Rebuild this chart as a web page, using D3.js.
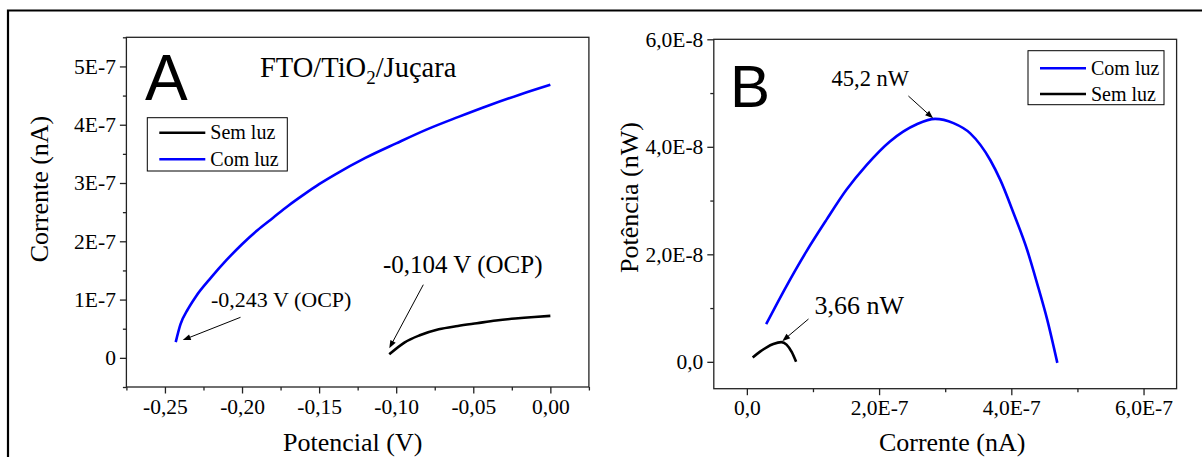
<html>
<head>
<meta charset="utf-8">
<script src="https://d3js.org/d3.v7.min.js"></script>
<style>
  body { margin: 0; background: #fff; }
  text { font-family: "Liberation Serif", "Times New Roman", serif; fill: #000; }
  .tick line { stroke: #222; stroke-width: 1.3; }
</style>
</head>
<body>
<script>

// panel A : corrente x potencial
semLuzA = [[-0.1045,0.06e-7],[-0.0947,0.262e-7],[-0.0847,0.387e-7],[-0.0724,0.49e-7],[-0.0600,0.547e-7],
  [-0.0476,0.594e-7],[-0.0352,0.64e-7],[-0.0228,0.675e-7],[-0.0104,0.702e-7],[0,0.72e-7]]
comLuzA = [[-0.243,0.27e-7],[-0.240,0.57e-7],[-0.235,0.84e-7],[-0.230,1.05e-7],[-0.220,1.38e-7],
  [-0.210,1.68e-7],[-0.200,1.95e-7],[-0.190,2.19e-7],[-0.180,2.40e-7],[-0.170,2.61e-7],
  [-0.160,2.80e-7],[-0.150,2.98e-7],[-0.140,3.14e-7],[-0.120,3.43e-7],[-0.100,3.68e-7],
  [-0.080,3.92e-7],[-0.060,4.13e-7],[-0.040,4.33e-7],[-0.020,4.515e-7],[0,4.685e-7]]

// panel B : potencia x corrente
comLuzB = [[0.292e-7,0.70e-8],[0.595e-7,1.40e-8],[0.899e-7,2.05e-8],[1.203e-7,2.64e-8],[1.506e-7,3.20e-8],
  [1.81e-7,3.66e-8],[2.164e-7,4.10e-8],[2.57e-7,4.42e-8],[2.847e-7,4.52e-8],[3.125e-7,4.44e-8],
  [3.379e-7,4.25e-8],[3.683e-7,3.75e-8],[3.835e-7,3.38e-8],[4.036e-7,2.76e-8],[4.24e-7,2.08e-8],
  [4.39e-7,1.46e-8],[4.544e-7,0.78e-8],[4.696e-7,-0.02e-8]]
semLuzB = [[0.088e-7,0.08e-8],[0.2e-7,0.19e-8],[0.3e-7,0.27e-8],[0.4e-7,0.33e-8],[0.52e-7,0.366e-8],
  [0.6e-7,0.32e-8],[0.68e-7,0.18e-8],[0.745e-7,0.0]]

xTicksA = [-0.25,-0.20,-0.15,-0.10,-0.05,0]
xLabelsA = ["-0,25","-0,20","-0,15","-0,10","-0,05","0,00"]
yTicksA = [0,1e-7,2e-7,3e-7,4e-7,5e-7]
yLabelsA = ["0","1E-7","2E-7","3E-7","4E-7","5E-7"]
xTicksB = [0,2e-7,4e-7,6e-7]
xLabelsB = ["0,0","2,0E-7","4,0E-7","6,0E-7"]
yTicksB = [0,2e-8,4e-8,6e-8]
yLabelsB = ["0,0","2,0E-8","4,0E-8","6,0E-8"]

serif = "'Liberation Serif', 'Times New Roman', serif"

svg = d3.select("body").append("svg").attr("width",1202).attr("height",457)

// outer frame (only top and left visible)
svg.append("path").attr("d","M8,457V10.5H1202").attr("fill","none").attr("stroke","#000").attr("stroke-width",2.2)

function styleAxis(sel){
  sel.attr("font-family",serif).attr("font-size",21.5)
  sel.select(".domain").remove()
  sel.selectAll("text").style("font-family",serif).style("font-size","21.5px").attr("fill","#000")
}

function panel(o){
  var x = d3.scaleLinear().domain(o.xd).range([o.l,o.r]),
      y = d3.scaleLinear().domain(o.yd).range([o.b,o.t]);
  var g = svg.append("g");

  g.append("g").attr("transform","translate(0,"+o.b+")")
    .call(d3.axisBottom(x).tickValues(o.xMinor).tickSize(3.5).tickFormat("")).call(styleAxis)
  g.append("g").attr("transform","translate("+o.l+",0)")
    .call(d3.axisLeft(y).tickValues(o.yMinor).tickSize(3.5).tickFormat("")).call(styleAxis)
  g.append("g").attr("transform","translate(0,"+o.b+")")
    .call(d3.axisBottom(x).tickValues(o.xt).tickSize(6.5).tickPadding(5).tickFormat((d,i) => o.xl[i])).call(styleAxis)
  g.append("g").attr("transform","translate("+o.l+",0)")
    .call(d3.axisLeft(y).tickValues(o.yt).tickSize(6.5).tickPadding(4).tickFormat((d,i) => o.yl[i])).call(styleAxis)

  g.append("rect").attr("x",o.l).attr("y",o.t).attr("width",o.r-o.l).attr("height",o.b-o.t)
    .attr("fill","none").attr("stroke","#222").attr("stroke-width",1.3)

  var line = d3.line().x(d => x(d[0])).y(d => y(d[1])).curve(d3.curveMonotoneX);
  o.series.forEach(function(s){
    g.append("path").datum(s.data).attr("d",line).attr("fill","none")
      .attr("stroke",s.color).attr("stroke-width",2.6).attr("stroke-linejoin","round")
  })

  g.append("text").attr("x",(o.l+o.r)/2 + o.xtOff).attr("y",450.5).attr("text-anchor","middle")
    .style("font-size","26px").text(o.xTitle)
  g.append("text").attr("transform","translate("+o.ytX+","+o.ytY+") rotate(-90)")
    .attr("text-anchor","middle").style("font-size","26px").text(o.yTitle)

  g.append("text").attr("x",o.letter[0]).attr("y",o.letter[1]).style("font-family","'Liberation Sans', Arial, sans-serif")
    .style("font-size",o.letter[2]+"px").text(o.letter[3])

  // legend
  var lg = o.legend;
  g.append("rect").attr("x",lg.x).attr("y",lg.y).attr("width",lg.w).attr("height",lg.h)
    .attr("fill","#fff").attr("stroke","#000").attr("stroke-width",1)
  lg.items.forEach(function(it,i){
    var cy = lg.y + lg.rows[i];
    g.append("line").attr("x1",lg.x+12).attr("x2",lg.x+58).attr("y1",cy).attr("y2",cy)
      .attr("stroke",it.color).attr("stroke-width",2.6)
    g.append("text").attr("x",lg.x+63).attr("y",cy).attr("dy","0.33em").style("font-size","20px").text(it.name)
  })

  // annotations
  o.notes.forEach(function(n){
    g.append("text").attr("x",n.tx).attr("y",n.ty).style("font-size",n.fs+"px").text(n.text)
    var x1 = n.from[0], y1 = n.from[1], x2 = x(n.at[0]) + n.off[0], y2 = y(n.at[1]) + n.off[1];
    var a = Math.atan2(y2-y1, x2-x1), L = 8, W = 3;
    g.append("line").attr("x1",x1).attr("y1",y1).attr("x2",x2 - Math.cos(a)*L*0.8).attr("y2",y2 - Math.sin(a)*L*0.8)
      .attr("stroke","#000").attr("stroke-width",1)
    var bx = x2 - Math.cos(a)*L, by = y2 - Math.sin(a)*L;
    g.append("path").attr("d","M"+x2+","+y2+"L"+(bx - Math.sin(a)*W)+","+(by + Math.cos(a)*W)+"L"+(bx + Math.sin(a)*W)+","+(by - Math.cos(a)*W)+"Z")
      .attr("fill","#000")
  })
  return g;
}

panel({
  l:126.4, r:588.9, t:37.3, b:387,
  xd:[-0.275,0.025], yd:[-0.5e-7,5.5e-7],
  xt:xTicksA, xl:xLabelsA, yt:yTicksA, yl:yLabelsA,
  xMinor:[-0.275,-0.225,-0.175,-0.125,-0.075,-0.025,0.025],
  yMinor:[-0.5e-7,0.5e-7,1.5e-7,2.5e-7,3.5e-7,4.5e-7,5.5e-7],
  series:[{data:semLuzA,color:"#000"},{data:comLuzA,color:"#0000ff"}],
  xTitle:"Potencial (V)", xtOff:-5, yTitle:"Corrente (nA)", ytX:48, ytY:189,
  letter:[145,99.5,64,"A"],
  legend:{x:147.3,y:117.7,w:140,h:53.3,rows:[15,41.6],items:[{name:"Sem luz",color:"#000"},{name:"Com luz",color:"#0000ff"}]},
  notes:[
    {text:"-0,243 V (OCP)",tx:211,ty:306.5,fs:22,from:[240.5,317.3],at:comLuzA[0],off:[7,-2]},
    {text:"-0,104 V (OCP)",tx:383,ty:273,fs:25,from:[423.3,284.7],at:semLuzA[0],off:[0,-6]}
  ]
})
.append("text").attr("x",260).attr("y",77).style("font-size","28.5px")
  .html('FTO/TiO<tspan dy="7" style="font-size:19px">2</tspan><tspan dy="-7">/Juçara</tspan>')

panel({
  l:713.8, r:1176.6, t:39.3, b:388.7,
  xd:[-0.5e-7,6.5e-7], yd:[-0.5e-8,6e-8],
  xt:xTicksB, xl:xLabelsB, yt:yTicksB, yl:yLabelsB,
  xMinor:[1e-7,3e-7,5e-7], yMinor:[1e-8,3e-8,5e-8],
  series:[{data:comLuzB,color:"#0000ff"},{data:semLuzB,color:"#000"}],
  xTitle:"Corrente (nA)", xtOff:7, yTitle:"Potência (nW)", ytX:638, ytY:197.5,
  letter:[730,106.5,60,"B"],
  legend:{x:1028,y:50.7,w:136,h:54,rows:[17.6,43.3],items:[{name:"Com luz",color:"#0000ff"},{name:"Sem luz",color:"#000"}]},
  notes:[
    {text:"45,2 nW",tx:831.5,ty:86,fs:22.5,from:[908.4,96],at:comLuzB[8],off:[-2,-0.5]},
    {text:"3,66 nW",tx:814.5,ty:314,fs:26,from:[808.5,319],at:semLuzB[4],off:[1,-1]}
  ]
})

</script>
</body>
</html>
